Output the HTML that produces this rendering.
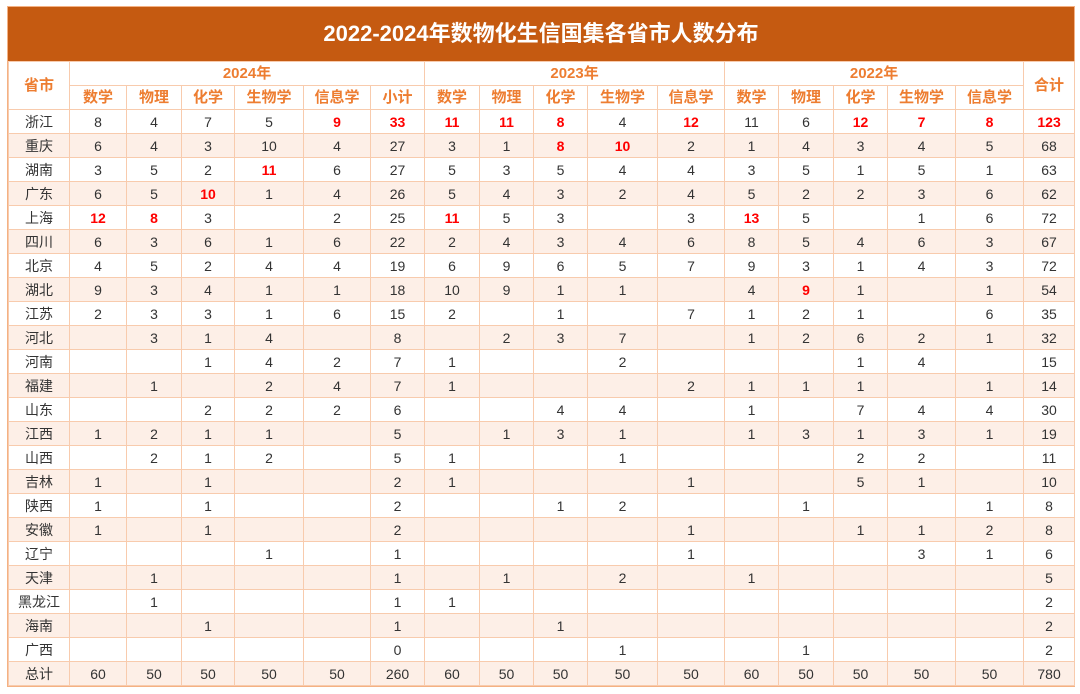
<!DOCTYPE html>
<html><head><meta charset="utf-8"><style>
body{margin:0;background:#fff;width:1080px;height:694px;overflow:hidden;font-family:"Liberation Sans","Noto Sans CJK SC",sans-serif;}
.wrap{position:absolute;left:7px;top:6px;width:1066px;border:1px solid #F4B183;}
.title{height:54px;background:#C55A11;color:#fff;font-size:22px;font-weight:bold;text-align:center;line-height:54px;}
table{border-collapse:collapse;table-layout:fixed;width:1066px;}
td{border:1px solid #F8CBAD;text-align:center;font-size:14px;color:#333;height:23px;padding:0;line-height:22px;}
tr.h td{color:#ED7D31;font-weight:bold;font-size:15px;}
tr.a td{background:#FDEFE7;}
td.r{color:#F00;font-weight:bold;}
tr.h1 td{height:23px}
</style></head><body>
<div class="wrap">
<div class="title">2022-2024年数物化生信国集各省市人数分布</div>
<table>
<colgroup><col style="width:61px"><col style="width:57px"><col style="width:55px"><col style="width:53px"><col style="width:69px"><col style="width:67px"><col style="width:54px"><col style="width:55px"><col style="width:54px"><col style="width:54px"><col style="width:70px"><col style="width:67px"><col style="width:54px"><col style="width:55px"><col style="width:54px"><col style="width:68px"><col style="width:68px"><col style="width:51px"></colgroup>
<tr class="h h1"><td rowspan="2">省市</td><td colspan="6">2024年</td><td colspan="5">2023年</td><td colspan="5">2022年</td><td rowspan="2">合计</td></tr>
<tr class="h"><td>数学</td><td>物理</td><td>化学</td><td>生物学</td><td>信息学</td><td>小计</td><td>数学</td><td>物理</td><td>化学</td><td>生物学</td><td>信息学</td><td>数学</td><td>物理</td><td>化学</td><td>生物学</td><td>信息学</td></tr>
<tr><td>浙江</td><td>8</td><td>4</td><td>7</td><td>5</td><td class="r">9</td><td class="r">33</td><td class="r">11</td><td class="r">11</td><td class="r">8</td><td>4</td><td class="r">12</td><td>11</td><td>6</td><td class="r">12</td><td class="r">7</td><td class="r">8</td><td class="r">123</td></tr>
<tr class="a"><td>重庆</td><td>6</td><td>4</td><td>3</td><td>10</td><td>4</td><td>27</td><td>3</td><td>1</td><td class="r">8</td><td class="r">10</td><td>2</td><td>1</td><td>4</td><td>3</td><td>4</td><td>5</td><td>68</td></tr>
<tr><td>湖南</td><td>3</td><td>5</td><td>2</td><td class="r">11</td><td>6</td><td>27</td><td>5</td><td>3</td><td>5</td><td>4</td><td>4</td><td>3</td><td>5</td><td>1</td><td>5</td><td>1</td><td>63</td></tr>
<tr class="a"><td>广东</td><td>6</td><td>5</td><td class="r">10</td><td>1</td><td>4</td><td>26</td><td>5</td><td>4</td><td>3</td><td>2</td><td>4</td><td>5</td><td>2</td><td>2</td><td>3</td><td>6</td><td>62</td></tr>
<tr><td>上海</td><td class="r">12</td><td class="r">8</td><td>3</td><td></td><td>2</td><td>25</td><td class="r">11</td><td>5</td><td>3</td><td></td><td>3</td><td class="r">13</td><td>5</td><td></td><td>1</td><td>6</td><td>72</td></tr>
<tr class="a"><td>四川</td><td>6</td><td>3</td><td>6</td><td>1</td><td>6</td><td>22</td><td>2</td><td>4</td><td>3</td><td>4</td><td>6</td><td>8</td><td>5</td><td>4</td><td>6</td><td>3</td><td>67</td></tr>
<tr><td>北京</td><td>4</td><td>5</td><td>2</td><td>4</td><td>4</td><td>19</td><td>6</td><td>9</td><td>6</td><td>5</td><td>7</td><td>9</td><td>3</td><td>1</td><td>4</td><td>3</td><td>72</td></tr>
<tr class="a"><td>湖北</td><td>9</td><td>3</td><td>4</td><td>1</td><td>1</td><td>18</td><td>10</td><td>9</td><td>1</td><td>1</td><td></td><td>4</td><td class="r">9</td><td>1</td><td></td><td>1</td><td>54</td></tr>
<tr><td>江苏</td><td>2</td><td>3</td><td>3</td><td>1</td><td>6</td><td>15</td><td>2</td><td></td><td>1</td><td></td><td>7</td><td>1</td><td>2</td><td>1</td><td></td><td>6</td><td>35</td></tr>
<tr class="a"><td>河北</td><td></td><td>3</td><td>1</td><td>4</td><td></td><td>8</td><td></td><td>2</td><td>3</td><td>7</td><td></td><td>1</td><td>2</td><td>6</td><td>2</td><td>1</td><td>32</td></tr>
<tr><td>河南</td><td></td><td></td><td>1</td><td>4</td><td>2</td><td>7</td><td>1</td><td></td><td></td><td>2</td><td></td><td></td><td></td><td>1</td><td>4</td><td></td><td>15</td></tr>
<tr class="a"><td>福建</td><td></td><td>1</td><td></td><td>2</td><td>4</td><td>7</td><td>1</td><td></td><td></td><td></td><td>2</td><td>1</td><td>1</td><td>1</td><td></td><td>1</td><td>14</td></tr>
<tr><td>山东</td><td></td><td></td><td>2</td><td>2</td><td>2</td><td>6</td><td></td><td></td><td>4</td><td>4</td><td></td><td>1</td><td></td><td>7</td><td>4</td><td>4</td><td>30</td></tr>
<tr class="a"><td>江西</td><td>1</td><td>2</td><td>1</td><td>1</td><td></td><td>5</td><td></td><td>1</td><td>3</td><td>1</td><td></td><td>1</td><td>3</td><td>1</td><td>3</td><td>1</td><td>19</td></tr>
<tr><td>山西</td><td></td><td>2</td><td>1</td><td>2</td><td></td><td>5</td><td>1</td><td></td><td></td><td>1</td><td></td><td></td><td></td><td>2</td><td>2</td><td></td><td>11</td></tr>
<tr class="a"><td>吉林</td><td>1</td><td></td><td>1</td><td></td><td></td><td>2</td><td>1</td><td></td><td></td><td></td><td>1</td><td></td><td></td><td>5</td><td>1</td><td></td><td>10</td></tr>
<tr><td>陕西</td><td>1</td><td></td><td>1</td><td></td><td></td><td>2</td><td></td><td></td><td>1</td><td>2</td><td></td><td></td><td>1</td><td></td><td></td><td>1</td><td>8</td></tr>
<tr class="a"><td>安徽</td><td>1</td><td></td><td>1</td><td></td><td></td><td>2</td><td></td><td></td><td></td><td></td><td>1</td><td></td><td></td><td>1</td><td>1</td><td>2</td><td>8</td></tr>
<tr><td>辽宁</td><td></td><td></td><td></td><td>1</td><td></td><td>1</td><td></td><td></td><td></td><td></td><td>1</td><td></td><td></td><td></td><td>3</td><td>1</td><td>6</td></tr>
<tr class="a"><td>天津</td><td></td><td>1</td><td></td><td></td><td></td><td>1</td><td></td><td>1</td><td></td><td>2</td><td></td><td>1</td><td></td><td></td><td></td><td></td><td>5</td></tr>
<tr><td>黑龙江</td><td></td><td>1</td><td></td><td></td><td></td><td>1</td><td>1</td><td></td><td></td><td></td><td></td><td></td><td></td><td></td><td></td><td></td><td>2</td></tr>
<tr class="a"><td>海南</td><td></td><td></td><td>1</td><td></td><td></td><td>1</td><td></td><td></td><td>1</td><td></td><td></td><td></td><td></td><td></td><td></td><td></td><td>2</td></tr>
<tr><td>广西</td><td></td><td></td><td></td><td></td><td></td><td>0</td><td></td><td></td><td></td><td>1</td><td></td><td></td><td>1</td><td></td><td></td><td></td><td>2</td></tr>
<tr class="a"><td>总计</td><td>60</td><td>50</td><td>50</td><td>50</td><td>50</td><td>260</td><td>60</td><td>50</td><td>50</td><td>50</td><td>50</td><td>60</td><td>50</td><td>50</td><td>50</td><td>50</td><td>780</td></tr>
</table>
</div>
</body></html>
